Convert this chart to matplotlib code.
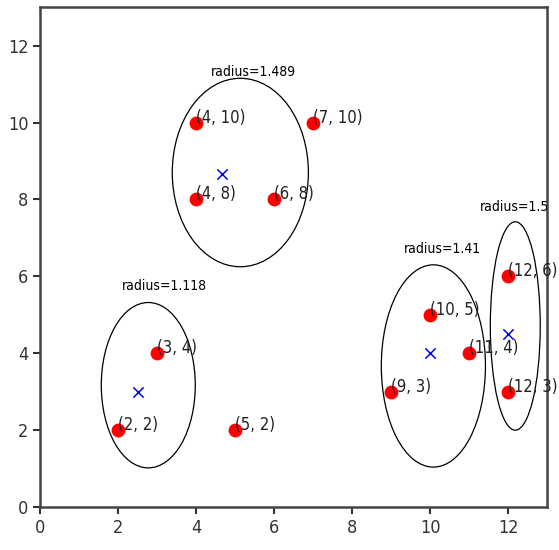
import matplotlib
matplotlib.use("Agg")
import matplotlib.pyplot as plt
from matplotlib.patches import Ellipse

# data points and cluster info
xs = [2, 3, 5, 4, 4, 6, 7, 9, 10, 11, 12, 12]
ys = [2, 4, 2, 10, 8, 8, 10, 3, 5, 4, 6, 3]

cent_x = [2.5, 4.67, 10, 12]
cent_y = [3, 8.67, 4, 4.5]

# ellipses as drawn: centre, width, height (data units)
ell_x = [2.77, 5.13, 10.08, 12.18]
ell_y = [3.17, 8.70, 3.67, 4.71]
ell_w = [2.41, 3.49, 2.67, 1.28]
ell_h = [4.30, 4.90, 5.26, 5.42]

radius = ["1.118", "1.489", "1.41", "1.5"]
rad_x = [2.1, 4.38, 9.33, 11.28]
rad_y = [5.65, 11.2, 6.6, 7.7]

plt.rcParams['font.family'] = 'DejaVu Sans'
plt.rcParams['font.stretch'] = 'condensed'

fig = plt.figure(figsize=(5.59, 5.5), dpi=100)
ax = fig.add_axes([0.072, 0.078, 0.907, 0.909])

ax.scatter(xs, ys, c='red', s=80, zorder=3)
for x, y in zip(xs, ys):
    ax.text(x, y, '(%d, %d)' % (x, y), fontsize=12, color='#222222', zorder=4)

ax.scatter(cent_x, cent_y, c='blue', marker='x', s=55, linewidths=1.1, zorder=3)

for i in range(len(ell_x)):
    e = Ellipse((ell_x[i], ell_y[i]), ell_w[i], ell_h[i], fill=False,
                edgecolor='black', linewidth=0.9)
    ax.add_patch(e)
    ax.text(rad_x[i], rad_y[i], 'radius=' + radius[i], fontsize=10, color='black')

ax.set_xlim(0, 13)
ax.set_ylim(0, 13)
ax.set_xticks([0, 2, 4, 6, 8, 10, 12])
ax.set_yticks([0, 2, 4, 6, 8, 10, 12])
ax.tick_params(labelsize=13, colors='#333333', length=5, width=1.5)
for s in ax.spines.values():
    s.set_linewidth(1.8)
    s.set_color('#444444')

fig.savefig('out.png', dpi=100)
